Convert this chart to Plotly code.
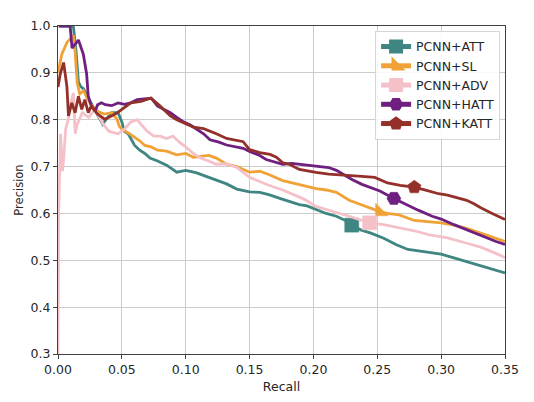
import plotly.graph_objects as go

# Precision / recall curves
att_recall = [0.001, 0.012, 0.014, 0.016, 0.018, 0.020, 0.023, 0.027, 0.031, 0.035, 0.038, 0.042, 0.047,
              0.050, 0.052, 0.055, 0.060, 0.064, 0.068, 0.072, 0.078, 0.085, 0.093, 0.100, 0.108, 0.115,
              0.123, 0.132, 0.140, 0.150, 0.158, 0.165, 0.176, 0.183, 0.189, 0.195, 0.202, 0.210, 0.218,
              0.225, 0.230, 0.237, 0.245, 0.255, 0.265, 0.274, 0.285, 0.293, 0.300, 0.310, 0.320, 0.330,
              0.340, 0.350]
att_prec = [1.0, 1.0, 0.95, 0.88, 0.87, 0.866, 0.85, 0.83, 0.81, 0.79, 0.802, 0.815, 0.815,
            0.795, 0.775, 0.77, 0.745, 0.735, 0.728, 0.718, 0.712, 0.703, 0.688, 0.692, 0.687, 0.680,
            0.672, 0.663, 0.652, 0.646, 0.645, 0.640, 0.630, 0.624, 0.619, 0.616, 0.608, 0.600, 0.594,
            0.585, 0.575, 0.565, 0.558, 0.547, 0.533, 0.523, 0.519, 0.516, 0.513, 0.505, 0.497, 0.490,
            0.482, 0.473]

sl_recall = [0.0, 0.003, 0.007, 0.010, 0.012, 0.013, 0.015, 0.017, 0.020, 0.023, 0.026, 0.031, 0.036,
             0.042, 0.046, 0.048, 0.050, 0.055, 0.060, 0.064, 0.068, 0.073, 0.078, 0.085, 0.093, 0.100,
             0.106, 0.112, 0.118, 0.124, 0.132, 0.140, 0.150, 0.158, 0.165, 0.176, 0.185, 0.193, 0.202,
             0.210, 0.218, 0.228, 0.238, 0.252, 0.258, 0.267, 0.279, 0.290, 0.300, 0.310, 0.320, 0.331,
             0.340, 0.350]
sl_prec = [0.90, 0.94, 0.965, 0.975, 0.98, 0.96, 0.88, 0.855, 0.862, 0.845, 0.832, 0.818, 0.812,
           0.815, 0.802, 0.786, 0.780, 0.772, 0.762, 0.755, 0.745, 0.742, 0.735, 0.733, 0.725, 0.728,
           0.720, 0.722, 0.724, 0.718, 0.705, 0.700, 0.688, 0.690, 0.683, 0.670, 0.664, 0.660, 0.653,
           0.650, 0.645, 0.628, 0.618, 0.604, 0.600, 0.597, 0.585, 0.583, 0.580, 0.575, 0.568, 0.558,
           0.550, 0.540]

adv_recall = [0.0, 0.0005, 0.002, 0.0035, 0.0045, 0.006, 0.008, 0.010, 0.012, 0.0135, 0.015, 0.019,
              0.024, 0.029, 0.035, 0.040, 0.047, 0.052, 0.057, 0.062, 0.065, 0.070, 0.075, 0.080, 0.085,
              0.090, 0.095, 0.100, 0.106, 0.112, 0.118, 0.124, 0.132, 0.140, 0.150, 0.158, 0.165, 0.176,
              0.185, 0.193, 0.202, 0.210, 0.218, 0.228, 0.238, 0.244, 0.255, 0.267, 0.279, 0.290, 0.305,
              0.318, 0.331, 0.340, 0.350]
adv_prec = [0.30, 0.60, 0.77, 0.69, 0.72, 0.78, 0.80, 0.835, 0.857, 0.77, 0.79, 0.815,
            0.805, 0.822, 0.792, 0.775, 0.77, 0.78, 0.795, 0.80, 0.79, 0.775, 0.765, 0.765, 0.760,
            0.765, 0.752, 0.742, 0.728, 0.718, 0.712, 0.705, 0.706, 0.698, 0.677, 0.668, 0.660, 0.650,
            0.640, 0.630, 0.615, 0.608, 0.602, 0.594, 0.586, 0.580, 0.576, 0.570, 0.563, 0.555, 0.548,
            0.538, 0.528, 0.518, 0.506]

hatt_recall = [0.0005, 0.003, 0.006, 0.0095, 0.011, 0.016, 0.0198, 0.0224, 0.0237, 0.026, 0.029, 0.031,
               0.034, 0.037, 0.042, 0.047, 0.052, 0.057, 0.062, 0.067, 0.073, 0.078, 0.083, 0.088, 0.093,
               0.0986, 0.104, 0.109, 0.114, 0.119, 0.126, 0.132, 0.139, 0.145, 0.150, 0.157, 0.163, 0.170,
               0.176, 0.183, 0.189, 0.196, 0.202, 0.212, 0.218, 0.223, 0.2305, 0.238, 0.245, 0.252, 0.263,
               0.272, 0.282, 0.293, 0.300, 0.310, 0.318, 0.326, 0.335, 0.343, 0.350]
hatt_prec = [1.0, 1.0, 1.0, 1.0, 0.953, 0.97, 0.94, 0.898, 0.85, 0.83, 0.818, 0.832,
             0.836, 0.832, 0.83, 0.836, 0.833, 0.836, 0.843, 0.845, 0.846, 0.829, 0.822, 0.815, 0.805,
             0.795, 0.788, 0.778, 0.770, 0.757, 0.752, 0.746, 0.742, 0.739, 0.732, 0.725, 0.715, 0.710,
             0.705, 0.707, 0.705, 0.703, 0.701, 0.698, 0.692, 0.684, 0.672, 0.662, 0.655, 0.648, 0.632,
             0.620, 0.607, 0.594, 0.588, 0.576, 0.567, 0.558, 0.549, 0.540, 0.534]

katt_recall = [0.0, 0.0018, 0.0044, 0.007, 0.0082, 0.0108, 0.0134, 0.016, 0.0186, 0.021, 0.0237, 0.026,
               0.031, 0.0366, 0.0418, 0.046, 0.050, 0.057, 0.065, 0.0727, 0.080, 0.088, 0.093, 0.098,
               0.106, 0.114, 0.119, 0.124, 0.132, 0.139, 0.145, 0.150, 0.158, 0.166, 0.171, 0.176, 0.181,
               0.189, 0.196, 0.202, 0.212, 0.220, 0.228, 0.238, 0.248, 0.258, 0.268, 0.279, 0.290, 0.298,
               0.305, 0.313, 0.320, 0.326, 0.331, 0.340, 0.350]
katt_prec = [0.870, 0.898, 0.922, 0.870, 0.808, 0.836, 0.815, 0.850, 0.822, 0.843, 0.815, 0.829,
             0.812, 0.801, 0.808, 0.814, 0.822, 0.836, 0.839, 0.846, 0.829, 0.808, 0.800, 0.794,
             0.784, 0.781, 0.776, 0.770, 0.760, 0.756, 0.753, 0.736, 0.730, 0.726, 0.720, 0.708, 0.705,
             0.694, 0.690, 0.6875, 0.684, 0.682, 0.680, 0.679, 0.677, 0.665, 0.660, 0.656, 0.648, 0.642,
             0.639, 0.634, 0.628, 0.620, 0.612, 0.600, 0.587]

# recall value at which each curve carries its marker
marker_at = {'PCNN+ATT': 0.230, 'PCNN+SL': 0.252, 'PCNN+ADV': 0.244,
             'PCNN+HATT': 0.263, 'PCNN+KATT': 0.279}

series = [
    ('PCNN+ATT', att_recall, att_prec, '#3f8682', 'square'),
    ('PCNN+SL', sl_recall, sl_prec, '#f0a236', 'triangle-sw'),
    ('PCNN+ADV', adv_recall, adv_prec, '#f5c1c9', 'square'),
    ('PCNN+HATT', hatt_recall, hatt_prec, '#6e1f80', 'hexagon2'),
    ('PCNN+KATT', katt_recall, katt_prec, '#94302a', 'pentagon'),
]

fig = go.Figure()

for name, xs, ys, color, symbol in series:
    sizes = [14 if abs(x - marker_at[name]) < 1e-9 else 0 for x in xs]
    fig.add_trace(go.Scatter(
        x=xs, y=ys,
        mode='lines+markers',
        name=name,
        line=dict(color=color, width=2.8),
        marker=dict(symbol=symbol, size=sizes, color=color, opacity=1,
                    line=dict(width=0.5, color=color)),
    ))

axis_common = dict(
    showgrid=True, gridcolor='#cccccc', gridwidth=1.2,
    showline=True, linecolor='#404040', linewidth=1.3, mirror=True,
    ticks='outside', ticklen=4, tickcolor='#404040',
    zeroline=False,
    tickfont=dict(size=12.5, color='#262626'),
)

fig.update_xaxes(range=[0, 0.35], dtick=0.05, tickformat='.2f',
                 title=dict(text='Recall', font=dict(size=12.5, color='#262626'), standoff=6),
                 **axis_common)
fig.update_yaxes(range=[0.3, 1.0], dtick=0.1, tickformat='.1f',
                 title=dict(text='Precision', font=dict(size=11.5, color='#262626'), standoff=4),
                 **axis_common)

fig.update_layout(
    width=534, height=402,
    margin=dict(l=45, r=37, t=10, b=56),
    plot_bgcolor='white', paper_bgcolor='white',
    font=dict(family='DejaVu Sans', color='#262626'),
    legend=dict(
        x=0.989, y=0.985, xanchor='right', yanchor='top',
        bgcolor='rgba(255,255,255,0.85)', bordercolor='#d6d6d6', borderwidth=1,
        font=dict(size=12.5), itemsizing='constant', tracegroupgap=0,
    ),
)

fig.write_html("out.html")
